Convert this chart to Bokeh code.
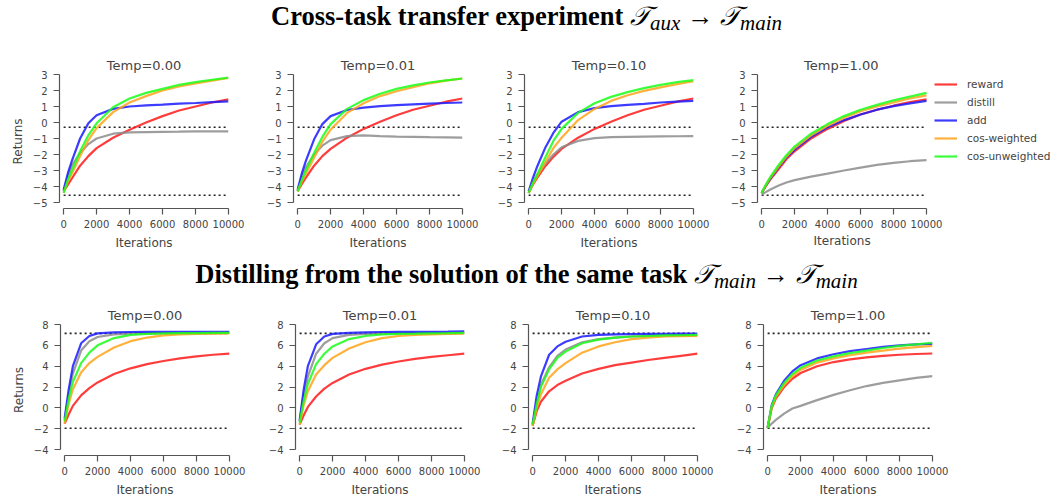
from bokeh.plotting import figure
from bokeh.models import Range1d, FixedTicker, Div, Legend, LegendItem, Title
from bokeh.layouts import column, row
from bokeh.embed import file_html
from bokeh.resources import INLINE

# ---------------- data ----------------
iterations = [0, 250, 500, 1000, 1500, 2000, 3000, 4000, 5000, 6000, 7000, 8000, 9000, 10000]
methods = ["reward", "distill", "add", "cos-weighted", "cos-unweighted"]
method_colors = ["#ff1a1a", "#8c8c8c", "#1a1aff", "#ffa31a", "#1aff1a"]
temp_labels = ["Temp=0.00", "Temp=0.01", "Temp=0.10", "Temp=1.00"]

# Cross-task transfer (top row)
top_t000_reward = [-4.3, -3.9, -3.5, -2.7, -2.1, -1.6, -0.95, -0.45, 0.0, 0.4, 0.75, 1.0, 1.25, 1.45]
top_t000_distill = [-4.3, -3.4, -2.7, -1.9, -1.35, -1.0, -0.7, -0.62, -0.6, -0.58, -0.57, -0.55, -0.55, -0.55]
top_t000_add = [-4.2, -3.2, -2.4, -1.0, -0.05, 0.45, 0.85, 1.0, 1.07, 1.12, 1.18, 1.22, 1.27, 1.32]
top_t000_cosw = [-4.4, -3.7, -3.2, -2.1, -1.1, -0.35, 0.65, 1.25, 1.65, 2.0, 2.25, 2.45, 2.62, 2.78]
top_t000_cosu = [-4.4, -3.6, -3.0, -1.8, -0.8, -0.05, 0.95, 1.5, 1.85, 2.1, 2.35, 2.52, 2.67, 2.8]

top_t001_reward = [-4.3, -3.85, -3.45, -2.7, -2.1, -1.65, -0.95, -0.4, 0.05, 0.45, 0.8, 1.05, 1.3, 1.5]
top_t001_distill = [-4.3, -3.4, -2.8, -2.0, -1.45, -1.1, -0.85, -0.8, -0.85, -0.88, -0.9, -0.92, -0.93, -0.95]
top_t001_add = [-4.2, -3.2, -2.4, -1.05, -0.1, 0.4, 0.78, 0.93, 1.02, 1.08, 1.13, 1.18, 1.22, 1.25]
top_t001_cosw = [-4.3, -3.7, -3.2, -2.2, -1.2, -0.45, 0.6, 1.2, 1.65, 1.95, 2.2, 2.45, 2.62, 2.75]
top_t001_cosu = [-4.3, -3.6, -3.0, -1.9, -0.9, -0.1, 0.85, 1.4, 1.8, 2.1, 2.32, 2.5, 2.63, 2.75]

top_t010_reward = [-4.4, -3.9, -3.5, -2.75, -2.15, -1.65, -0.95, -0.4, 0.05, 0.45, 0.8, 1.05, 1.3, 1.5]
top_t010_distill = [-4.4, -3.8, -3.3, -2.6, -2.0, -1.55, -1.15, -0.98, -0.92, -0.9, -0.88, -0.87, -0.86, -0.85]
top_t010_add = [-4.3, -3.5, -2.8, -1.6, -0.65, 0.05, 0.65, 0.9, 1.02, 1.1, 1.17, 1.25, 1.3, 1.35]
top_t010_cosw = [-4.4, -3.85, -3.4, -2.5, -1.6, -0.95, 0.15, 0.85, 1.35, 1.7, 1.98, 2.2, 2.4, 2.58]
top_t010_cosu = [-4.4, -3.8, -3.3, -2.2, -1.15, -0.4, 0.6, 1.2, 1.6, 1.9, 2.15, 2.35, 2.52, 2.65]

top_t100_reward = [-4.4, -4.0, -3.6, -2.95, -2.3, -1.8, -1.0, -0.4, 0.1, 0.5, 0.8, 1.05, 1.27, 1.45]
top_t100_distill = [-4.5, -4.35, -4.2, -3.95, -3.75, -3.6, -3.38, -3.2, -3.0, -2.82, -2.65, -2.52, -2.42, -2.35]
top_t100_add = [-4.4, -3.95, -3.55, -2.85, -2.2, -1.7, -0.9, -0.3, 0.15, 0.5, 0.8, 1.02, 1.2, 1.35]
top_t100_cosw = [-4.4, -3.95, -3.5, -2.8, -2.15, -1.6, -0.8, -0.2, 0.3, 0.7, 1.0, 1.25, 1.5, 1.7]
top_t100_cosu = [-4.4, -3.9, -3.45, -2.7, -2.05, -1.5, -0.7, -0.1, 0.4, 0.8, 1.1, 1.38, 1.62, 1.85]

# Distilling from the same task (bottom row)
bot_t000_reward = [-1.5, -0.6, 0.2, 1.2, 1.9, 2.45, 3.25, 3.8, 4.2, 4.5, 4.75, 4.95, 5.1, 5.2]
bot_t000_distill = [-1.2, 1.3, 3.3, 5.5, 6.4, 6.8, 7.05, 7.12, 7.15, 7.17, 7.18, 7.18, 7.18, 7.2]
bot_t000_add = [-1.0, 1.8, 4.0, 6.2, 6.9, 7.15, 7.25, 7.28, 7.3, 7.3, 7.3, 7.3, 7.3, 7.3]
bot_t000_cosw = [-1.5, 0.4, 1.8, 3.4, 4.3, 4.9, 5.8, 6.4, 6.75, 6.95, 7.05, 7.1, 7.12, 7.15]
bot_t000_cosu = [-1.3, 0.9, 2.5, 4.3, 5.3, 6.0, 6.7, 7.0, 7.1, 7.15, 7.17, 7.18, 7.2, 7.2]

bot_t001_reward = [-1.6, -0.7, 0.1, 1.1, 1.85, 2.4, 3.2, 3.75, 4.15, 4.45, 4.7, 4.9, 5.05, 5.2]
bot_t001_distill = [-1.3, 1.2, 3.0, 5.2, 6.2, 6.7, 7.0, 7.1, 7.12, 7.15, 7.17, 7.18, 7.2, 7.2]
bot_t001_add = [-1.2, 1.8, 4.0, 6.1, 6.85, 7.1, 7.2, 7.25, 7.28, 7.3, 7.3, 7.3, 7.32, 7.35]
bot_t001_cosw = [-1.6, 0.3, 1.6, 3.2, 4.1, 4.8, 5.7, 6.3, 6.7, 6.9, 7.0, 7.05, 7.1, 7.12]
bot_t001_cosu = [-1.4, 0.7, 2.3, 4.2, 5.2, 5.9, 6.6, 6.9, 7.05, 7.1, 7.12, 7.15, 7.17, 7.2]

bot_t010_reward = [-1.7, -0.3, 0.6, 1.6, 2.2, 2.6, 3.3, 3.75, 4.1, 4.35, 4.6, 4.8, 5.0, 5.2]
bot_t010_distill = [-1.6, 0.5, 2.2, 3.9, 5.0, 5.6, 6.3, 6.6, 6.75, 6.85, 6.9, 6.92, 6.95, 6.95]
bot_t010_add = [-1.5, 1.2, 3.0, 5.1, 5.9, 6.35, 6.85, 7.0, 7.05, 7.08, 7.1, 7.1, 7.12, 7.12]
bot_t010_cosw = [-1.7, 0.0, 1.3, 2.9, 3.7, 4.3, 5.3, 5.9, 6.3, 6.6, 6.75, 6.85, 6.88, 6.9]
bot_t010_cosu = [-1.6, 0.4, 2.0, 3.7, 4.8, 5.4, 6.2, 6.55, 6.75, 6.85, 6.9, 6.95, 6.97, 7.0]

bot_t100_reward = [-1.9, 0.0, 0.9, 2.0, 2.8, 3.35, 4.0, 4.4, 4.65, 4.85, 5.0, 5.1, 5.17, 5.22]
bot_t100_distill = [-1.9, -1.5, -1.15, -0.55, -0.05, 0.2, 0.75, 1.25, 1.7, 2.1, 2.4, 2.65, 2.88, 3.05]
bot_t100_add = [-1.9, 0.3, 1.3, 2.6, 3.5, 4.1, 4.75, 5.15, 5.45, 5.65, 5.85, 6.0, 6.1, 6.15]
bot_t100_cosw = [-1.9, 0.1, 1.05, 2.2, 3.05, 3.65, 4.35, 4.75, 5.05, 5.3, 5.5, 5.68, 5.83, 5.95]
bot_t100_cosu = [-1.9, 0.2, 1.2, 2.4, 3.25, 3.85, 4.55, 4.95, 5.25, 5.5, 5.75, 5.95, 6.1, 6.25]

top_ref_levels = [-0.3, -4.55]
bot_ref_levels = [7.15, -1.95]
top_yticks = [-5, -4, -3, -2, -1, 0, 1, 2, 3]
bot_yticks = [-4, -2, 0, 2, 4, 6, 8]
xticks = [0, 2000, 4000, 6000, 8000, 10000]

top_panels = [
    [top_t000_reward, top_t000_distill, top_t000_add, top_t000_cosw, top_t000_cosu],
    [top_t001_reward, top_t001_distill, top_t001_add, top_t001_cosw, top_t001_cosu],
    [top_t010_reward, top_t010_distill, top_t010_add, top_t010_cosw, top_t010_cosu],
    [top_t100_reward, top_t100_distill, top_t100_add, top_t100_cosw, top_t100_cosu],
]
bot_panels = [
    [bot_t000_reward, bot_t000_distill, bot_t000_add, bot_t000_cosw, bot_t000_cosu],
    [bot_t001_reward, bot_t001_distill, bot_t001_add, bot_t001_cosw, bot_t001_cosu],
    [bot_t010_reward, bot_t010_distill, bot_t010_add, bot_t010_cosw, bot_t010_cosu],
    [bot_t100_reward, bot_t100_distill, bot_t100_add, bot_t100_cosw, bot_t100_cosu],
]

TXT = "#444444"
FONT = "DejaVu Sans"
DATA_W = 169       # pixel width of the data region (-250 .. 10000)
X_LO = -250


def fmt(v):
    return ("\u2212" + str(abs(v))) if v < 0 else str(v)


def make_panel(title, series, refs, yticks, y_pad, width, height, left, right,
               top, first, legend=False, frame_h=134):
    frame_w = width - left - right
    x_hi = X_LO + (xticks[-1] - X_LO) * frame_w / DATA_W
    p = figure(width=width, height=height,
               x_range=Range1d(X_LO, x_hi),
               y_range=Range1d(yticks[0] - y_pad, yticks[-1]),
               output_backend="svg", toolbar_location=None,
               min_border_left=left, min_border_right=right,
               min_border_top=top, min_border_bottom=height - top - frame_h)
    p.margin = 0
    p.outline_line_color = None
    p.xgrid.visible = False
    p.ygrid.visible = False
    p.background_fill_color = "white"

    wide = frame_w > DATA_W + 5
    ttl = Title(text=title, text_font=FONT, text_font_size="13px",
                text_font_style="normal", text_color=TXT, standoff=3)
    if wide:
        ttl.align = "left"
        ttl.offset = DATA_W / 2 - 38
    else:
        ttl.align = "center"
    p.title = ttl

    for ax in (p.xaxis[0], p.yaxis[0]):
        ax.axis_line_color = "#555555"
        ax.axis_line_width = 1.2
        ax.major_tick_line_color = "#555555"
        ax.major_tick_line_width = 1.2
        ax.major_tick_out = 6
        ax.major_tick_in = 0
        ax.minor_tick_line_color = None
        ax.major_label_text_font = FONT
        ax.major_label_text_font_size = "10px"
        ax.major_label_text_color = TXT
        ax.axis_label_text_font = FONT
        ax.axis_label_text_font_size = "12px"
        ax.axis_label_text_font_style = "normal"
        ax.axis_label_text_color = TXT
        ax.axis_label_standoff = 5

    p.xaxis.major_label_standoff = 5
    p.yaxis.major_label_standoff = 6
    p.xaxis.ticker = FixedTicker(ticks=xticks)
    p.xaxis.bounds = (xticks[0], xticks[-1])
    if wide:
        xl = Title(text="Iterations", text_font=FONT, text_font_size="12px",
                   text_font_style="normal", text_color=TXT, align="left",
                   offset=DATA_W / 2 - 28.5, standoff=3)
        p.add_layout(xl, "below")
    else:
        p.xaxis.axis_label = "Iterations"
    p.yaxis.ticker = FixedTicker(ticks=yticks)
    p.yaxis.bounds = (yticks[0], yticks[-1])
    p.yaxis.major_label_overrides = {t: fmt(t) for t in yticks}
    if first:
        p.yaxis.axis_label = "Returns"

    x_ends = [iterations[0], iterations[-1]]
    for lvl in refs:
        p.line(x_ends, [lvl, lvl], line_color="#222222", line_width=1.6, line_dash="2 3")

    renderers = []
    for vals, col in zip(series, method_colors):
        r = p.line(iterations, vals, line_color=col, line_width=2.2, line_alpha=0.85)
        renderers.append(r)

    if legend:
        items = [LegendItem(label=m, renderers=[r]) for m, r in zip(methods, renderers)]
        lg = Legend(items=items, location=(DATA_W + 8, 46))
        lg.margin = 0
        lg.padding = 0
        lg.spacing = 6
        lg.glyph_width = 23
        lg.glyph_height = 12
        lg.label_height = 12
        lg.label_standoff = 10
        lg.label_text_font = FONT
        lg.label_text_font_size = "10.5px"
        lg.label_text_color = TXT
        lg.border_line_color = None
        lg.background_fill_alpha = 0
        p.add_layout(lg, "center")
    return p


def title_div(html, height, pad_top):
    return Div(text=html, width=1053, height=height, margin=0,
               styles={"font-family": "Liberation Serif", "font-weight": "bold",
                       "font-size": "26.5px", "color": "#000", "text-align": "center",
                       "width": "1053px", "padding-top": f"{pad_top}px",
                       "line-height": "30px", "white-space": "nowrap"})


def T(sub):
    return ('<span style="font-style:italic;font-weight:normal;">\U0001D4AF'
            f'<span style="font-size:21px;position:relative;top:5px;">{sub}</span></span>')


ARROW = ' <span style="font-weight:normal;">\u2192</span> '
top_html = "Cross-task transfer experiment " + T("aux") + ARROW + T("main")
bot_html = "Distilling from the solution of the same task " + T("main") + ARROW + T("main")

# (width, left border, right border) per panel
top_geom = [(248, 59, 20), (234, 45, 20), (231, 42, 20), (340, 44, 0)]
bot_geom = [(249, 60, 20), (235, 46, 20), (233, 44, 20), (336, 46, 121)]

top_figs = []
for i in range(4):
    w, l, r = top_geom[i]
    top_figs.append(make_panel(temp_labels[i], top_panels[i], top_ref_levels, top_yticks,
                               6 / 16.0, w, 200, l, r, 22, i == 0,
                               legend=(i == 3), frame_h=134))
bot_figs = []
for i in range(4):
    w, l, r = bot_geom[i]
    bot_figs.append(make_panel(temp_labels[i], bot_panels[i], bot_ref_levels, bot_yticks,
                               6 / 10.75, w, 197, l, r, 22, i == 0,
                               frame_h=135))

layout = column(
    title_div(top_html, 52, 1),
    row(*top_figs, spacing=0),
    title_div(bot_html, 50, 7),
    row(*bot_figs, spacing=0),
    spacing=0,
)

open("out.html", "w").write(file_html(layout, INLINE))
